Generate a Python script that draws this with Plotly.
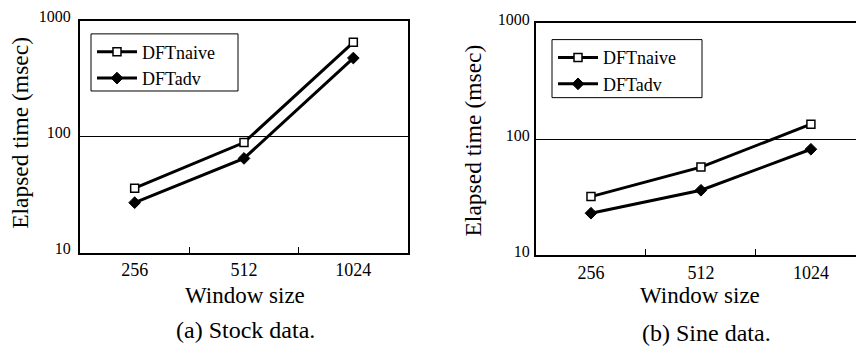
import plotly.graph_objects as go

W, H = 856, 352

window_sizes = ["256", "512", "1024"]
stock_naive = [36, 89, 650]
stock_adv = [27, 65, 476]
sine_naive = [32, 57.5, 135]
sine_adv = [23, 36.3, 82]
y_tickvals = [10, 100, 1000]
y_ticktext = ["10", "100", "1000"]

FONT = "Liberation Serif"

def px(x):
    return x / W

def py(y):
    return 1 - y / H

fig = go.Figure()

def add_series(xa, ya, naive, adv, legend):
    fig.add_trace(go.Scatter(
        x=window_sizes, y=naive, name="DFTnaive", xaxis=xa, yaxis=ya,
        mode="lines+markers", legend=legend,
        line=dict(color="black", width=3),
        marker=dict(symbol="square", size=8, color="white",
                    line=dict(color="black", width=1.5)),
    ))
    fig.add_trace(go.Scatter(
        x=window_sizes, y=adv, name="DFTadv", xaxis=xa, yaxis=ya,
        mode="lines+markers", legend=legend,
        line=dict(color="black", width=3),
        marker=dict(symbol="diamond", size=9, color="black",
                    line=dict(color="black", width=1)),
    ))

add_series("x", "y", stock_naive, stock_adv, "legend")
add_series("x2", "y2", sine_naive, sine_adv, "legend2")

xcommon = dict(
    type="category", showline=True, linecolor="black", linewidth=2,
    ticks="inside", tickson="boundaries", ticklen=6, tickwidth=1,
    tickcolor="black", showgrid=False, zeroline=False,
    tickfont=dict(family=FONT, size=18, color="black"),
)
ycommon = dict(
    type="log", range=[0.9995, 3.0005], showline=True, linecolor="black", linewidth=2,
    tickvals=y_tickvals, ticktext=y_ticktext, ticks="",
    showgrid=True, gridcolor="black", gridwidth=1, zeroline=False,
    tickfont=dict(family=FONT, size=16, color="black"),
    ticklabelshift=-4, ticklabeloverflow="allow",
)

legend_font = dict(family=FONT, size=18, color="black")

fig.update_layout(
    width=W, height=H,
    margin=dict(l=0, r=0, t=0, b=0),
    paper_bgcolor="white", plot_bgcolor="white",
    xaxis=dict(xcommon, domain=[px(80), px(408)], anchor="y", mirror=True,
               range=[-0.5, 2.5]),
    yaxis=dict(ycommon, domain=[py(253), py(9)], anchor="x", mirror=True,
               ticklabelstandoff=4),
    xaxis2=dict(xcommon, domain=[px(536), 1.0], anchor="y2", mirror=True,
                range=[-0.5, 2.41]),
    yaxis2=dict(ycommon, domain=[py(255.5), py(12)], anchor="x2", mirror=False,
                ticklabelstandoff=1),
    legend=dict(x=px(92), y=py(22.6), xanchor="left", yanchor="top",
                bgcolor="rgba(0,0,0,0)", borderwidth=0, itemwidth=40,
                font=legend_font),
    legend2=dict(x=px(553), y=py(28.6), xanchor="left", yanchor="top",
                 bgcolor="rgba(0,0,0,0)", borderwidth=0, itemwidth=40,
                 font=legend_font),
    showlegend=True,
)

# legend frames
for (x0, y0, x1, y1) in [(91, 23, 238, 83), (552, 29, 702, 90)]:
    fig.add_shape(type="rect", xref="paper", yref="paper",
                  x0=px(x0), x1=px(x1), y0=py(y1), y1=py(y0),
                  line=dict(color="black", width=1), fillcolor="rgba(0,0,0,0)")

def ann(text, x, y, size, angle=0):
    fig.add_annotation(text=text, x=px(x), y=py(y), xref="paper", yref="paper",
                       showarrow=False, xanchor="center", yanchor="middle",
                       textangle=angle,
                       font=dict(family=FONT, size=size, color="black"))

ann("Elapsed time (msec)", 20, 127, 23.5, -90)
ann("Elapsed time (msec)", 473, 135, 23.5, -90)
ann("Window size", 245, 298, 23)
ann("Window size", 700, 298, 23)
ann("(a) Stock data.", 245, 334, 24)
ann("(b) Sine data.", 706, 337, 24)

fig.write_html("out.html", config={"displayModeBar": False},
               post_script="document.body.style.margin='0';")
